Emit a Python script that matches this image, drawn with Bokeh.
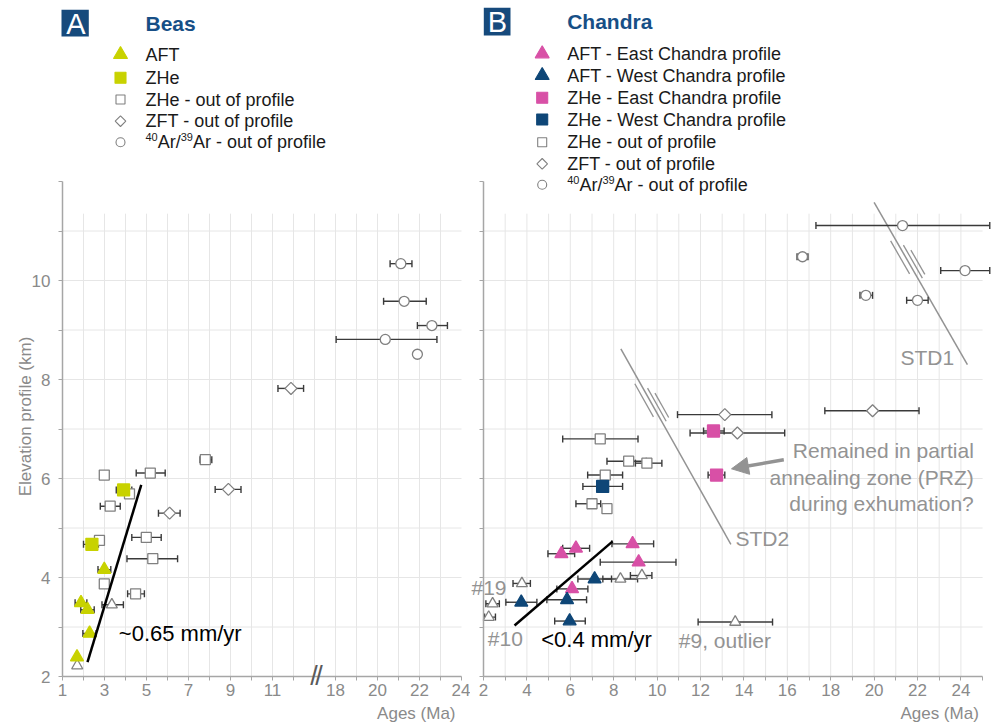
import math
from bokeh.plotting import figure
from bokeh.layouts import row
from bokeh.models import FixedTicker, Label, BoxAnnotation, Arrow, NormalHead
from bokeh.embed import file_html
from bokeh.resources import INLINE

# ---------------- data: Beas (panel A) ---- ages (Ma), elevation (km) ----
beas_aft_age  = [1.69, 2.29, 1.88, 2.19, 2.99]
beas_aft_elev = [2.39, 2.87, 3.49, 3.35, 4.16]
beas_aft_lo   = [1.69, 1.97, 1.60, 1.87, 2.69]
beas_aft_hi   = [1.69, 2.60, 2.16, 2.51, 3.30]

beas_zhe_age  = [3.91, 2.40]
beas_zhe_elev = [5.77, 4.67]
beas_zhe_lo   = [3.56, 2.00]
beas_zhe_hi   = [4.30, 2.71]

beas_zheo_age  = [2.99, 5.18, 7.80, 4.19, 3.27, 2.76, 4.99, 5.30, 2.99, 4.48]
beas_zheo_elev = [6.07, 6.11, 6.38, 5.69, 5.44, 4.75, 4.81, 4.38, 3.87, 3.67]
beas_zheo_lo   = [2.99, 4.51, 7.55, 4.00, 2.80, 2.76, 4.30, 4.07, 2.99, 4.10]
beas_zheo_hi   = [2.99, 5.89, 8.11, 4.40, 3.75, 2.76, 5.70, 6.48, 2.99, 4.90]

beas_afto_age  = [3.35, 1.70]
beas_afto_elev = [3.45, 2.22]
beas_afto_lo   = [2.88, 1.70]
beas_afto_hi   = [3.90, 1.70]

beas_zft_age  = [6.10, 8.90, 11.88]
beas_zft_elev = [5.30, 5.78, 7.82]
beas_zft_lo   = [5.57, 8.27, 11.26]
beas_zft_hi   = [6.60, 9.50, 12.48]

beas_ar_age  = [21.11, 21.27, 22.59, 20.37, 21.90]
beas_ar_elev = [10.34, 9.58, 9.09, 8.81, 8.51]
beas_ar_lo   = [20.60, 20.29, 21.90, 18.03, 21.90]
beas_ar_hi   = [21.64, 22.32, 23.33, 22.83, 21.90]

beas_trend_age  = [2.19, 4.75]
beas_trend_elev = [2.29, 5.87]

beas_tick_ages = [1, 3, 5, 7, 9, 11, 18, 20, 22, 24]

# ---------------- data: Chandra (panel B) ----------------
ch_aft_e_age  = [8.87, 9.15, 6.26, 5.59, 6.08]
ch_aft_e_elev = [4.68, 4.31, 4.59, 4.48, 3.77]
ch_aft_e_lo   = [7.92, 7.38, 5.65, 4.97, 5.38]
ch_aft_e_hi   = [9.84, 10.87, 6.89, 6.20, 6.81]

ch_aft_w_age  = [7.12, 5.85, 3.74, 5.97]
ch_aft_w_elev = [3.97, 3.55, 3.50, 3.12]
ch_aft_w_lo   = [6.35, 4.92, 3.03, 5.28]
ch_aft_w_hi   = [7.90, 6.75, 4.46, 6.69]

ch_zhe_e_age  = [12.60, 12.74]
ch_zhe_e_elev = [6.96, 6.07]
ch_zhe_e_lo   = [12.14, 12.35]
ch_zhe_e_hi   = [13.09, 13.12]

ch_zhe_w_age  = [7.49]
ch_zhe_w_elev = [5.84]
ch_zhe_w_lo   = [6.58]
ch_zhe_w_hi   = [8.41]

ch_zheo_age  = [7.38, 8.69, 9.53, 7.61, 7.00, 7.69]
ch_zheo_elev = [6.80, 6.35, 6.31, 6.07, 5.49, 5.39]
ch_zheo_lo   = [5.65, 7.69, 9.00, 6.80, 6.26, 7.50]
ch_zheo_hi   = [9.12, 9.50, 10.22, 8.41, 7.40, 7.85]

ch_afto_age  = [8.31, 9.30, 3.77, 2.42, 2.24, 13.60]
ch_afto_elev = [3.97, 4.04, 3.88, 3.47, 3.20, 3.10]
ch_afto_lo   = [7.50, 8.77, 3.36, 2.11, 2.05, 11.89]
ch_afto_hi   = [9.10, 9.76, 4.16, 2.73, 2.55, 15.32]

ch_zft_age  = [19.93, 13.12, 13.70]
ch_zft_elev = [7.37, 7.29, 6.92]
ch_zft_lo   = [17.73, 10.94, 11.52]
ch_zft_hi   = [22.07, 15.29, 15.88]

ch_ar_age  = [21.31, 16.70, 24.19, 19.62, 22.00]
ch_ar_elev = [11.11, 10.48, 10.20, 9.70, 9.60]
ch_ar_lo   = [17.32, 16.45, 23.07, 19.35, 21.50]
ch_ar_hi   = [25.33, 16.95, 25.33, 19.93, 22.49]

ch_trend_age  = [3.43, 7.95]
ch_trend_elev = [3.03, 4.73]

std1_age, std1_elev = [20.0, 24.30], [11.58, 8.30]
std2_age, std2_elev = [8.33, 13.40], [8.62, 4.67]

legend_a = ["AFT", "ZHe", "ZHe - out of profile", "ZFT - out of profile", None]
legend_b = ["AFT - East Chandra profile", "AFT - West Chandra profile",
            "ZHe - East Chandra profile", "ZHe - West Chandra profile",
            "ZHe - out of profile", "ZFT - out of profile", None]
# None = the 40Ar/39Ar entry, typeset with superscripts
ar_parts = [("40", True), ("Ar/", False), ("39", True), ("Ar - out of profile", False)]

# ---------------- styles ----------------
FONT = "Liberation Sans"
YEL = "#c8d200"
PINK = "#d850a6"
NAVY = "#0e4677"
BOX = "#164a7c"
TITLE = "#174f86"
OPEN = "#808080"
ERR = "#3a3a3a"
GRID = "#e6e6e6"
AXC = "#a6a6a6"
TICKC = "#8a8a8a"
GRAYT = "#939393"
TXT = "#1a1a1a"


# layout helpers (page pixel -> data), used only for annotation placement
def a_x(px):
    return 1 + (px - 62.0) / 21.0


def b_x(px):
    return 2 + (px - 483.0) / 21.7


def yk(py):
    return 2 + (676 - py) / 49.5


def a_plot(age):
    # broken axis in panel A: ages above the break are shifted by 4 Ma
    return age if age <= 13 else age - 4


def make_fig(width, xr, x_axis_at):
    # the frame fills the whole canvas; axes are pinned at the data origin
    p = figure(width=width, height=723, x_range=xr, y_range=(yk(723), yk(0)),
               output_backend="svg", toolbar_location=None,
               min_border_left=0, min_border_right=0,
               min_border_top=0, min_border_bottom=0)
    p.outline_line_color = None
    p.grid.visible = False
    p.background_fill_color = "white"
    p.border_fill_color = "white"
    for ax in (p.xaxis[0], p.yaxis[0]):
        ax.axis_line_color = AXC
        ax.axis_line_width = 1.5
        ax.major_tick_line_color = AXC
        ax.minor_tick_line_color = AXC
        ax.major_tick_in = 0
        ax.major_tick_out = 4
        ax.minor_tick_in = 0
        ax.minor_tick_out = 4
        ax.major_label_text_font = FONT
        ax.major_label_text_font_size = "17px"
        ax.major_label_text_color = TICKC
    p.xaxis.fixed_location = 2
    p.yaxis.fixed_location = x_axis_at
    p.xaxis.major_label_standoff = 3
    p.yaxis.major_label_standoff = 8
    p.yaxis.bounds = (2, 12)
    return p


def lab(p, x, y, text, size, color, align="left", bold=False, angle=0.0):
    p.add_layout(Label(x=x, y=y, text=text, text_font=FONT,
                       text_font_size=f"{size}px", text_color=color,
                       text_align=align, text_baseline="middle",
                       text_font_style="bold" if bold else "normal",
                       angle=angle))


def ar_label(p, xfun, px, py):
    offs = [0.0, 12.2, 35.2, 47.4]
    for (txt, sup), off in zip(ar_parts, offs):
        if sup:
            lab(p, xfun(px + off), yk(py - 5), txt, 11, TXT)
        else:
            lab(p, xfun(px + off), yk(py), txt, 18, TXT)


def errbars(p, xs, ys, lo, hi):
    x0, x1, yy = [], [], []
    for x, y, l, h in zip(xs, ys, lo, hi):
        if h > l:
            x0.append(l)
            x1.append(h)
            yy.append(y)
    if not yy:
        return
    p.segment(x0=x0, y0=yy, x1=x1, y1=yy, line_color=ERR, line_width=1.4)
    p.scatter(x=x0 + x1, y=yy + yy, marker="dash", angle=math.pi / 2, size=7,
              line_color=ERR, line_width=1.4)


def markers(p, xs, ys, kind, size, fill, line, lw=1.3):
    angle = 0.0
    marker = kind
    if kind == "diamond":
        marker, angle = "square", math.pi / 4
    p.scatter(x=xs, y=ys, marker=marker, size=size, angle=angle,
              fill_color=fill, line_color=line, line_width=lw)


# ======================= Panel A =======================
pA = make_fig(470, (a_x(0), a_x(470)), 1)
pA.xaxis.bounds = (1, 20)
tick_pos = [a_plot(t) for t in beas_tick_ages]
pA.xaxis.ticker = FixedTicker(ticks=tick_pos, minor_ticks=[2, 4, 6, 8, 10, 12, 15, 17, 19])
pA.xaxis.major_label_overrides = {a_plot(t): str(t) for t in beas_tick_ages}
pA.yaxis.ticker = FixedTicker(ticks=[2, 4, 6, 8, 10], minor_ticks=[3, 5, 7, 9, 11, 12])

hy = list(range(3, 12))
pA.segment(x0=[1] * len(hy), y0=hy, x1=[20] * len(hy), y1=hy, line_color=GRID, line_width=1)
vx = list(range(2, 20))
pA.segment(x0=vx, y0=[2] * len(vx), x1=vx, y1=[11.35] * len(vx), line_color=GRID, line_width=1)

A_series = [
    (beas_zheo_age, beas_zheo_elev, beas_zheo_lo, beas_zheo_hi, "square", 10, "white", OPEN),
    (beas_afto_age, beas_afto_elev, beas_afto_lo, beas_afto_hi, "triangle", 11, "white", OPEN),
    (beas_zft_age, beas_zft_elev, beas_zft_lo, beas_zft_hi, "diamond", 8.5, "white", OPEN),
    (beas_ar_age, beas_ar_elev, beas_ar_lo, beas_ar_hi, "circle", 10, "white", OPEN),
    (beas_zhe_age, beas_zhe_elev, beas_zhe_lo, beas_zhe_hi, "square", 12, YEL, YEL),
    (beas_aft_age, beas_aft_elev, beas_aft_lo, beas_aft_hi, "triangle", 13, YEL, YEL),
]
for ag, el, lo, hi, *_ in A_series:
    errbars(pA, [a_plot(a) for a in ag], el, [a_plot(v) for v in lo], [a_plot(v) for v in hi])
for ag, el, lo, hi, kind, size, fill, line in A_series:
    markers(pA, [a_plot(a) for a in ag], el, kind, size, fill, line)

pA.line(x=beas_trend_age, y=beas_trend_elev, line_color="black", line_width=2.5)

# axis break marks "//"
for px0 in (313.5, 318.5):
    lab(pA, a_x(px0), yk(675), "/", 27, "#5a5a5a", align="center")

# header and legend A
pA.add_layout(BoxAnnotation(left=a_x(61), right=a_x(88.3), bottom=yk(36), top=yk(9.3),
                            fill_color=BOX, fill_alpha=1.0, line_color=None))
lab(pA, a_x(75.5), yk(23), "A", 29, "white", align="center")
lab(pA, a_x(145), yk(23.3), "Beas", 21, TITLE, bold=True)

leg_a_py = [54, 77.3, 99, 120.7, 141.7]
leg_a_style = [("triangle", 14, YEL, YEL), ("square", 11, YEL, YEL), ("square", 9, "white", OPEN),
               ("diamond", 7.5, "white", OPEN), ("circle", 9, "white", OPEN)]
for py, (kind, size, fill, line), txt in zip(leg_a_py, leg_a_style, legend_a):
    markers(pA, [a_x(120)], [yk(py)], kind, size, fill, line, lw=1.1)
    if txt is None:
        ar_label(pA, a_x, 145, py)
    else:
        lab(pA, a_x(145), yk(py), txt, 18, TXT)

lab(pA, a_x(118.3), yk(633), "~0.65 mm/yr", 22, "black")
lab(pA, a_x(25), yk(416), "Elevation profile (km)", 17, TICKC, align="center", angle=math.pi / 2)
lab(pA, a_x(455), yk(712.5), "Ages (Ma)", 17, TICKC, align="right")

# ======================= Panel B =======================
pB = make_fig(530, (b_x(470), b_x(1000)), 2)
pB.xaxis.bounds = (2, 25)
pB.xaxis.ticker = FixedTicker(ticks=list(range(2, 25, 2)), minor_ticks=list(range(3, 26, 2)))
pB.yaxis.ticker = FixedTicker(ticks=list(range(2, 13)))
pB.yaxis.major_label_overrides = {t: "" for t in range(2, 13)}
pB.yaxis.major_label_standoff = 0

pB.segment(x0=[2] * len(hy), y0=hy, x1=[25] * len(hy), y1=hy, line_color=GRID, line_width=1)
vxb = list(range(3, 25))
pB.segment(x0=vxb, y0=[2] * len(vxb), x1=vxb, y1=[11.35] * len(vxb), line_color=GRID, line_width=1)

# faults
pB.line(x=std1_age, y=std1_elev, line_color=GRAYT, line_width=1.5)
pB.line(x=std2_age, y=std2_elev, line_color=GRAYT, line_width=1.5)


def fault_marks(p, cx, cy, ux, uy):
    nx, ny = uy, -ux
    xs0, ys0, xs1, ys1 = [], [], [], []
    for off, t0, t1 in ((-4.5, -24, 14), (4.5, -14, 24), (8.5, -6, 22)):
        xs0.append(b_x(cx + nx * off + ux * t0))
        ys0.append(yk(cy + ny * off + uy * t0))
        xs1.append(b_x(cx + nx * off + ux * t1))
        ys1.append(yk(cy + ny * off + uy * t1))
    p.segment(x0=xs0, y0=ys0, x1=xs1, y1=ys1, line_color=GRAYT, line_width=1.3)


fault_marks(pB, 906, 259, 0.499, 0.867)
fault_marks(pB, 650, 402, 0.490, 0.872)

B_series = [
    (ch_zheo_age, ch_zheo_elev, ch_zheo_lo, ch_zheo_hi, "square", 10, "white", OPEN),
    (ch_afto_age, ch_afto_elev, ch_afto_lo, ch_afto_hi, "triangle", 11, "white", OPEN),
    (ch_zft_age, ch_zft_elev, ch_zft_lo, ch_zft_hi, "diamond", 8.5, "white", OPEN),
    (ch_ar_age, ch_ar_elev, ch_ar_lo, ch_ar_hi, "circle", 10, "white", OPEN),
    (ch_zhe_e_age, ch_zhe_e_elev, ch_zhe_e_lo, ch_zhe_e_hi, "square", 12, PINK, PINK),
    (ch_zhe_w_age, ch_zhe_w_elev, ch_zhe_w_lo, ch_zhe_w_hi, "square", 12, NAVY, NAVY),
    (ch_aft_e_age, ch_aft_e_elev, ch_aft_e_lo, ch_aft_e_hi, "triangle", 13, PINK, PINK),
    (ch_aft_w_age, ch_aft_w_elev, ch_aft_w_lo, ch_aft_w_hi, "triangle", 13, NAVY, NAVY),
]
for ag, el, lo, hi, *_ in B_series:
    errbars(pB, ag, el, lo, hi)
for ag, el, lo, hi, kind, size, fill, line in B_series:
    markers(pB, ag, el, kind, size, fill, line)

pB.line(x=ch_trend_age, y=ch_trend_elev, line_color="black", line_width=2.5)

# header and legend B
pB.add_layout(BoxAnnotation(left=b_x(483.3), right=b_x(510), bottom=yk(35), top=yk(7.3),
                            fill_color=BOX, fill_alpha=1.0, line_color=None))
lab(pB, b_x(497), yk(21.5), "B", 29, "white", align="center")
lab(pB, b_x(566.7), yk(20.7), "Chandra", 21, TITLE, bold=True)

leg_b_py = [53.3, 75, 97.3, 119, 141.7, 163.3, 184.3]
leg_b_style = [("triangle", 14, PINK, PINK), ("triangle", 14, NAVY, NAVY),
               ("square", 11, PINK, PINK), ("square", 11, NAVY, NAVY),
               ("square", 9, "white", OPEN), ("diamond", 7.5, "white", OPEN),
               ("circle", 9, "white", OPEN)]
for py, (kind, size, fill, line), txt in zip(leg_b_py, leg_b_style, legend_b):
    markers(pB, [b_x(541.7)], [yk(py)], kind, size, fill, line, lw=1.1)
    if txt is None:
        ar_label(pB, b_x, 566.7, py)
    else:
        lab(pB, b_x(566.7), yk(py), txt, 18, TXT)

# annotations B
lab(pB, b_x(471), yk(586.7), "#19", 21, GRAYT)
lab(pB, b_x(487.3), yk(638), "#10", 21, GRAYT)
lab(pB, b_x(678.3), yk(640), "#9, outlier", 21, GRAYT)
lab(pB, b_x(540.7), yk(639), "<0.4 mm/yr", 22, "black")
lab(pB, b_x(978.3), yk(712.5), "Ages (Ma)", 17, TICKC, align="right")
lab(pB, b_x(900), yk(357.3), "STD1", 21, GRAYT)
lab(pB, b_x(735), yk(538.3), "STD2", 21, GRAYT)
for ty, txt in zip((450, 476.7, 502.7),
                   ("Remained in partial", "annealing zone (PRZ)", "during exhumation?")):
    lab(pB, b_x(973.3), yk(ty), txt, 21, GRAYT, align="right")
pB.add_layout(Arrow(x_start=b_x(783.3), y_start=yk(459.3), x_end=b_x(731), y_end=yk(468.3),
                    line_color=GRAYT, line_width=3.5,
                    end=NormalHead(size=17, fill_color=GRAYT, line_color=GRAYT)))

layout = row(pA, pB)
open("out.html", "w").write(file_html(layout, INLINE))
